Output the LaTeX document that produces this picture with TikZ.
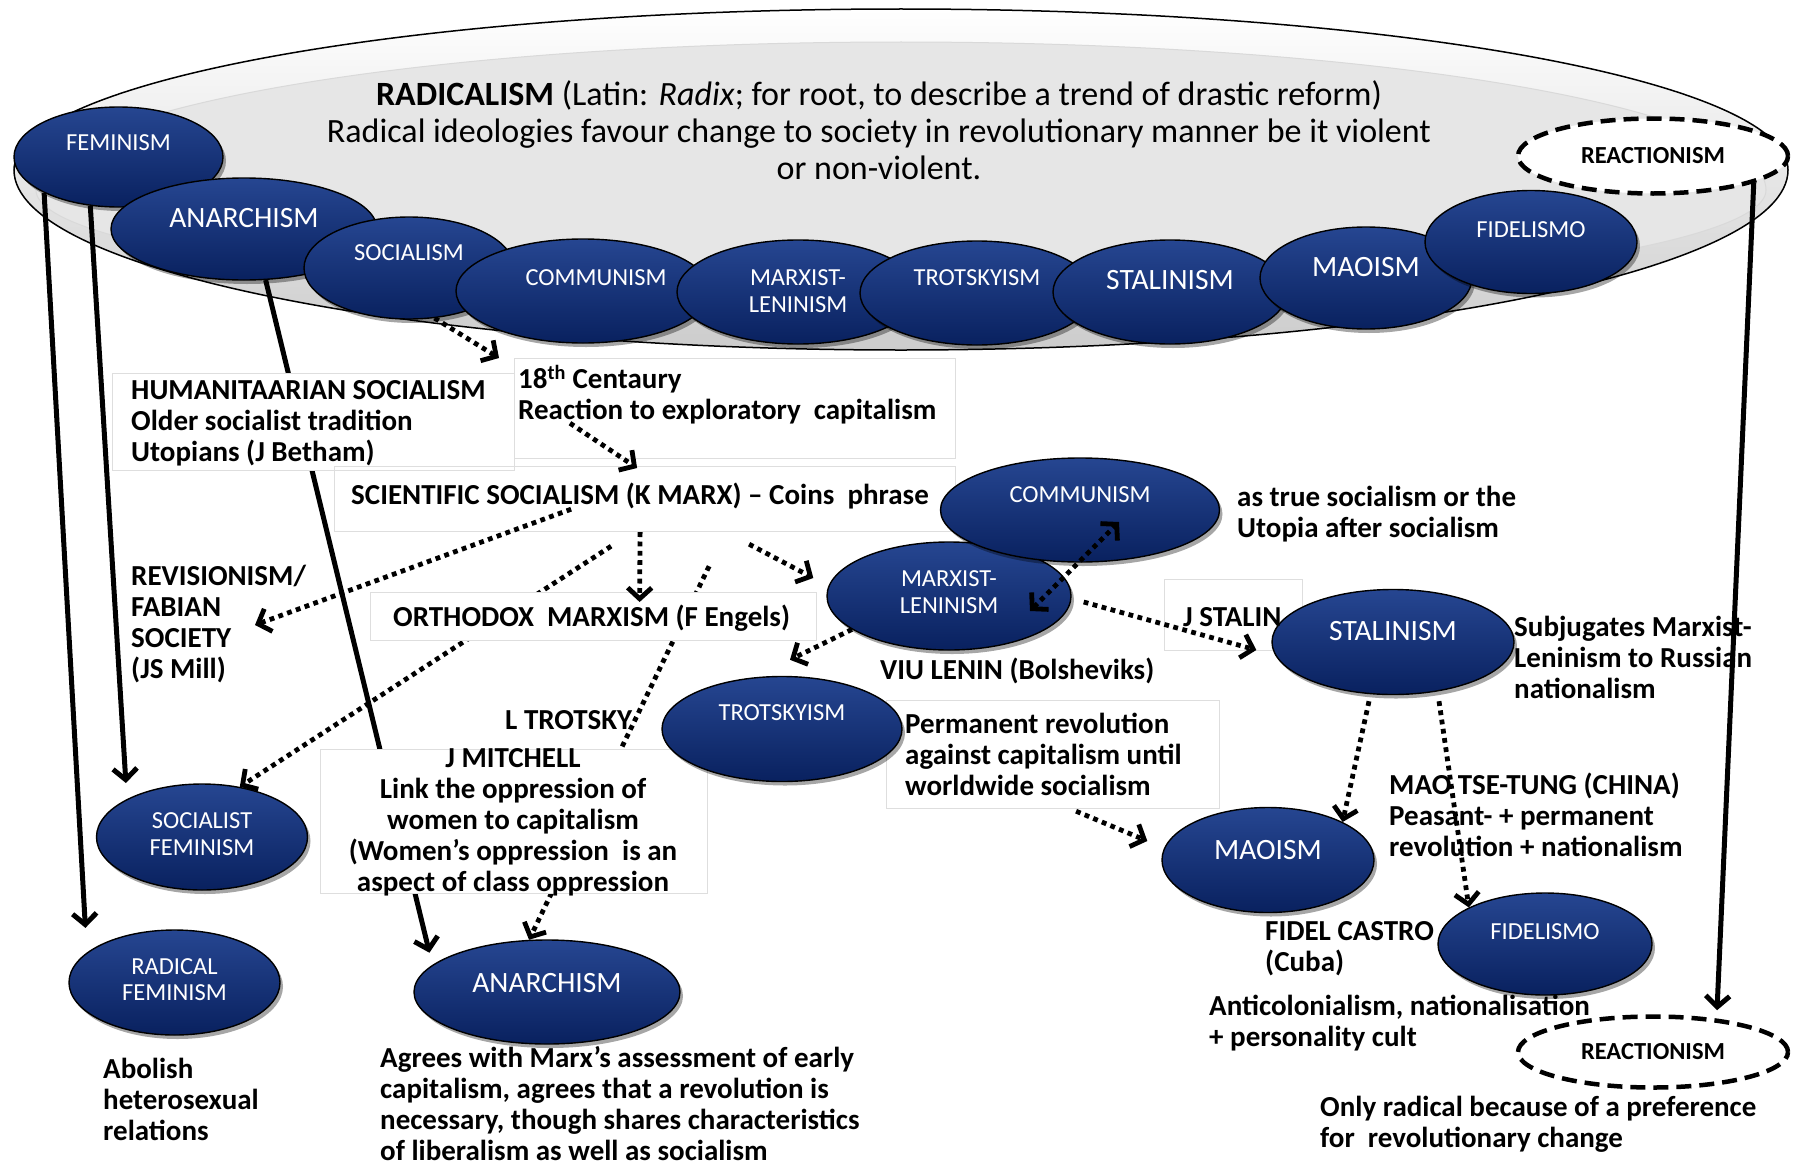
\documentclass[tikz,border=0pt]{standalone}
\usepackage{fontspec}
\setmainfont{Carlito}
\usetikzlibrary{arrows.meta,shapes.geometric,shadows}
\definecolor{ovalhi}{RGB}{38,70,145}
\definecolor{ovalmid}{RGB}{14,42,110}
\definecolor{ovallo}{RGB}{9,33,95}
\definecolor{boxline}{RGB}{222,222,222}
\definecolor{diskface}{RGB}{230,230,230}
\newcommand{\ovfont}{\fontsize{24.5}{26.5}\selectfont}
\newcommand{\ovbigfont}{\fontsize{29.5}{31}\selectfont}
\newcommand{\notefont}{\fontsize{29}{31}\selectfont\bfseries}
\newcommand{\radtitlefont}{\fontsize{34}{37}\selectfont}
\pgfdeclarelayer{disk}
\pgfdeclarelayer{links}
\pgfsetlayers{disk,links,main}

\begin{document}
\begin{tikzpicture}[x=1pt, y=-1pt,
    >={Straight Barb[length=11pt, width=24pt]},
    oval/.style={ellipse, draw=black, line width=1.4pt,
      top color=ovalhi, middle color=ovalmid, bottom color=ovallo,
      drop shadow={shadow xshift=3pt, shadow yshift=-4pt, opacity=0.35, fill=black}},
    ovsize/.style 2 args={minimum width=#1pt, minimum height=#2pt, inner sep=0pt},
    ovtxt/.style={text=white, font=\ovfont, align=center, inner sep=0pt},
    ovbig/.style={text=white, font=\ovbigfont, align=center, inner sep=0pt},
    reactoval/.style={ellipse, draw=black, fill=white, line width=4.5pt,
      dash pattern=on 15pt off 8pt, font=\ovfont\bfseries},
    tbox/.style={rectangle, draw=boxline, line width=1.2pt, inner sep=0pt, anchor=north west},
    boxsize/.style 2 args={minimum width=#1pt, minimum height=#2pt},
    note/.style={font=\notefont, align=left, inner sep=0pt, anchor=north west,
      execute at begin node=\strut},
    solidlink/.style={->, line width=5pt},
    dotlink/.style={->, line width=4.8pt, dash pattern=on 4.8pt off 4.5pt}
  ]
  \useasboundingbox (0,0) rectangle (1798,1164);

  % Radicalism disk
  \begin{pgfonlayer}{disk}
    \draw[line width=1.5pt, top color=white, middle color=white, bottom color=black!20]
      (14,170) arc[start angle=180, end angle=360, x radius=887, y radius=161]
      arc[start angle=0, end angle=180, x radius=887, y radius=180] -- cycle;
    \draw[fill=diskface, draw=black!15, line width=1pt]
      (36,190) arc[start angle=180, end angle=360, x radius=865, y radius=148]
      arc[start angle=0, end angle=180, x radius=865, y radius=110] -- cycle;
  \end{pgfonlayer}
  \node[font=\radtitlefont, align=center, anchor=north, inner sep=0pt,
    execute at begin node=\strut] (radTitle) at (879,80)
    {\textbf{RADICALISM} (Latin: \textit{Radix}; for root, to describe a trend of drastic reform)\\
     Radical ideologies favour change to society in revolutionary manner be it violent\\
     or non-violent.};

  % Text boxes
  \node[tbox, fill=white, boxsize={402}{97}] (humBox) at (112,373) {};
  \node[tbox, boxsize={441}{100}] (centBox) at (514,358) {};
  \node[tbox, boxsize={621}{65}] (sciBox) at (334,466) {};
  \node[tbox, fill=white, boxsize={446}{48}] (orthBox) at (370,592) {};
  \node[tbox, boxsize={138}{71}] (stalBox) at (1164,579) {};
  \node[tbox, fill=white, boxsize={387}{144}] (mitBox) at (320,749) {};
  \node[tbox, boxsize={333}{108}] (permBox) at (886,700) {};

  % Ideologies on the rim
  \node[oval, ovsize={209}{100}, label={[ovtxt, yshift=14pt]center:FEMINISM}] (femTop) at (118.5,157) {};
  \node[oval, ovsize={266}{102}, label={[ovbig, yshift=11pt]center:ANARCHISM}] (anaTop) at (244,229) {};
  \node[oval, ovsize={210}{102}, label={[ovtxt, yshift=15pt]center:SOCIALISM}] (socTop) at (409,268) {};
  \node[oval, ovsize={254}{104}, label={[ovtxt, xshift=13pt, yshift=13pt]center:COMMUNISM}] (comTop) at (583,291) {};
  \node[oval, ovsize={242}{104}, label={[ovtxt, yshift=1pt]center:MARXIST-\\LENINISM}] (mlTop) at (798,292) {};
  \node[oval, ovsize={234}{104}, label={[ovtxt, yshift=15pt]center:TROTSKYISM}] (troTop) at (977,293) {};
  \node[oval, ovsize={234}{104}, label={[ovbig, yshift=12pt]center:STALINISM}] (staTop) at (1170,292) {};
  \node[oval, ovsize={212}{102}, label={[ovbig, yshift=11pt]center:MAOISM}] (maoTop) at (1366,278) {};
  \node[oval, ovsize={212}{103}, label={[ovtxt, yshift=12pt]center:FIDELISMO}] (fidTop) at (1531,242) {};
  \node[reactoval, ovsize={270}{75}] (reaTop) at (1653,156) {REACTIONISM};

  % Ideologies below
  \node[oval, ovsize={244}{108}, label={[ovtxt, yshift=4pt]center:MARXIST-\\LENINISM}] (mlMid) at (949,596) {};
  \node[oval, ovsize={279}{104}, label={[ovtxt, yshift=15pt]center:COMMUNISM}] (comMid) at (1080,510) {};
  \node[oval, ovsize={242}{105}, label={[ovbig, yshift=11pt]center:STALINISM}] (staMid) at (1393,642) {};
  \node[oval, ovsize={240}{105}, label={[ovtxt, yshift=16pt]center:TROTSKYISM}] (troMid) at (782,729) {};
  \node[oval, ovsize={211}{106}, label={[ovtxt, yshift=3pt]center:SOCIALIST\\FEMINISM}] (socFem) at (202,837) {};
  \node[oval, ovsize={211}{105}, label={[ovtxt, yshift=3pt]center:RADICAL\\FEMINISM}] (radFem) at (174.5,982.5) {};
  \node[oval, ovsize={266}{104}, label={[ovbig, yshift=9pt]center:ANARCHISM}] (anaBot) at (547,992) {};
  \node[oval, ovsize={212}{105}, label={[ovbig, yshift=10pt]center:MAOISM}] (maoMid) at (1268,860) {};
  \node[oval, ovsize={214}{102}, label={[ovtxt, yshift=12pt]center:FIDELISMO}] (fidMid) at (1545,944) {};
  \node[reactoval, ovsize={270}{71}] (reaBot) at (1653,1052) {REACTIONISM};

  % Notes
  \node[note] (humTxt) at (131,380) {HUMANITAARIAN SOCIALISM\\ Older socialist tradition\\ Utopians (J Betham)};
  \node[note] (centTxt) at (518,365) {18\textsuperscript{th} Centaury\\ Reaction to exploratory\ \ capitalism};
  \node[note] (sciTxt) at (351,483) {SCIENTIFIC SOCIALISM (K MARX) -- Coins\ \ phrase};
  \node[note] (orthTxt) at (393,605) {ORTHODOX\ \ MARXISM (F Engels)};
  \node[note] (revTxt) at (131,565) {REVISIONISM/\\ FABIAN\\ SOCIETY\\ (JS Mill)};
  \node[note] (jstalTxt) at (1183,605) {J STALIN};
  \node[note] (leninTxt) at (880,658) {VIU LENIN (Bolsheviks)};
  \node[note] (ltrotTxt) at (505,708) {L TROTSKY};
  \node[note, align=center, anchor=north] (mitTxt) at (513,748) {J MITCHELL\\ Link the oppression of\\ women to capitalism\\ (Women’s oppression\ \ is an\\ aspect of class oppression};
  \node[note] (permTxt) at (905,713) {Permanent revolution\\ against capitalism until\\ worldwide socialism};
  \node[note] (trueTxt) at (1237,486) {as true socialism or the\\ Utopia after socialism};
  \node[note] (subjTxt) at (1514,616) {Subjugates Marxist-\\ Leninism to Russian\\ nationalism};
  \node[note] (maoTxt) at (1389,773) {MAO TSE-TUNG (CHINA)\\ Peasant- + permanent\\ revolution + nationalism};
  \node[note] (fidelTxt) at (1265,921) {FIDEL CASTRO\\ (Cuba)};
  \node[note] (antiTxt) at (1209,995) {Anticolonialism,\ nationalisation\\ + personality cult};
  \node[note] (onlyTxt) at (1320,1096) {Only radical\ because of a preference\\ for\ \ revolutionary change};
  \node[note] (abolTxt) at (103,1058) {Abolish\\ heterosexual\\ relations};
  \node[note] (agreeTxt) at (380,1046) {Agrees with Marx’s assessment of early\\ capitalism, agrees that a revolution is\\ necessary, though shares characteristics\\ of liberalism as well as socialism};

  % Links running behind the boxes
  \begin{pgfonlayer}{links}
    \draw[solidlink] (femTop.south west) -- ([shift={(-14,-17)}]radFem.north west);
    \draw[solidlink] (femTop.240) -- ([shift={(-1,-16)}]socFem.north west);
    \draw[solidlink] (anaTop.-67) -- ([shift={(-23,-2)}]anaBot.north west);
    \draw[solidlink] (reaTop.-15) -- ([shift={(64,-4)}]reaBot.north);
    \draw[dotlink] (socTop.-63) -- ([xshift=-15pt]centBox.north west);
    \draw[dotlink] ([shift={(-34,14)}]sciBox.south) -- (socFem.53);
    \draw[dotlink] ([shift={(64,34)}]sciBox.south) -- (anaBot.109);
  \end{pgfonlayer}

  % Links on top
  \draw[dotlink] ([shift={(56,-36)}]centBox.south west) -- ([shift={(-8,2)}]sciBox.north);
  \draw[dotlink] ([shift={(-74,-23)}]sciBox.south) -- ([shift={(124,60)}]revTxt.north west);
  \draw[dotlink] ([xshift=-5pt]sciBox.south) -- ([shift={(46,10)}]orthBox.north);
  \draw[dotlink] ([shift={(104,12)}]sciBox.south) -- ([shift={(-13,-18)}]mlMid.west);
  \draw[dotlink, <->] ([shift={(81,15)}]mlMid.center) -- ([shift={(39,12)}]comMid.center);
  \draw[dotlink] (mlMid.199) -- ([shift={(8,-16)}]troMid.north);
  \draw[dotlink] ([shift={(12,6)}]mlMid.east) -- ([shift={(-15,8)}]staMid.west);
  \draw[dotlink] ([shift={(-24,6)}]staMid.south) -- (maoMid.27);
  \draw[dotlink] ([shift={(46,6)}]staMid.south) -- (fidMid.north west);
  \draw[dotlink] ([shift={(23,2)}]permBox.south) -- ([shift={(-14,-19)}]maoMid.west);
\end{tikzpicture}
\end{document}
